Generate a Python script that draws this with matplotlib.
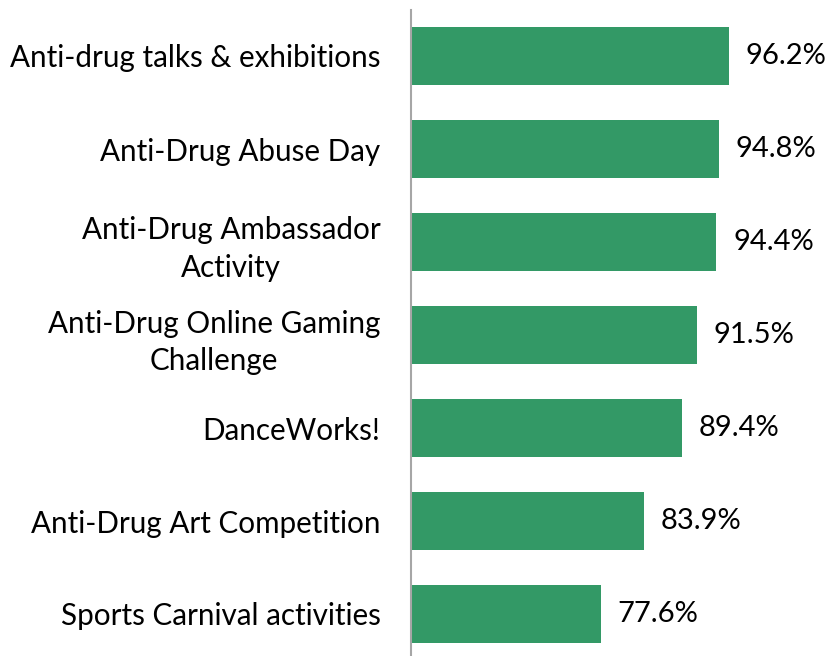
import matplotlib
matplotlib.use("Agg")
import matplotlib.pyplot as plt

categories = [
    "Anti-drug talks & exhibitions",
    "Anti-Drug Abuse Day",
    "Anti-Drug Ambassador\nActivity",
    "Anti-Drug Online Gaming\nChallenge",
    "DanceWorks!",
    "Anti-Drug Art Competition",
    "Sports Carnival activities",
]
values = [96.2, 94.8, 94.4, 91.5, 89.4, 83.9, 77.6]
value_labels = ["96.2%", "94.8%", "94.4%", "91.5%", "89.4%", "83.9%", "77.6%"]

plt.rcParams['font.family'] = ['Lato', 'DejaVu Sans']

fig = plt.figure(figsize=(8.27, 6.56), dpi=100)
ax = fig.add_axes([411/827, (656-660.5)/656, (755-411)/827, 651/656])

y = list(range(len(categories)))
ax.barh(y, [v - 50 for v in values], left=50, height=0.63, color="#339966")
ax.set_xlim(50, 100)
ax.set_ylim(len(categories) - 0.5, -0.5)

for yi, v, lab in zip(y, values, value_labels):
    ax.annotate(lab, (v, yi), xytext=(12, 0), textcoords="offset points",
                ha="left", va="center", fontsize=21, color="black")

ax.set_yticks(y)
ax.set_yticklabels(categories, fontsize=21.3, multialignment="center", linespacing=1.4)
ax.tick_params(axis="y", length=0, pad=22)
ax.set_xticks([])
for s in ["top", "right", "bottom"]:
    ax.spines[s].set_visible(False)
ax.spines["left"].set_color("#a6a6a6")
ax.spines["left"].set_linewidth(1.5)

fig.savefig("out.png", dpi=100)
